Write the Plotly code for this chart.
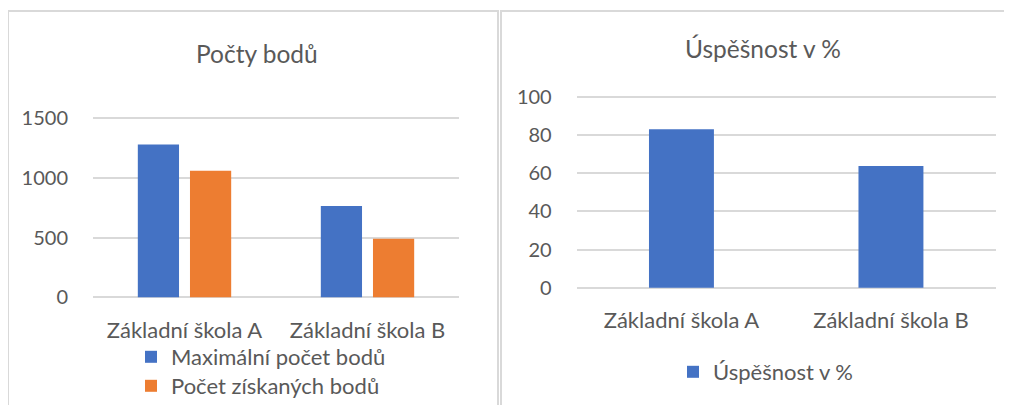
import plotly.graph_objects as go

categories = ["Základní škola A", "Základní škola B"]
max_points = [1280, 765]
earned_points = [1060, 490]
success_pct = [82.9, 63.7]

FONT = "Lato"
TXT = "#595959"
GRID = "#d9d9d9"
BLUE = "#4472C4"
ORANGE = "#ED7D31"
W, H = 1012, 405
OFF = 8  # page body margin

fig = go.Figure()
fig.add_trace(go.Bar(x=categories, y=max_points, name="Maximální počet bodů",
                     marker=dict(color=BLUE, line=dict(width=0)), xaxis="x", yaxis="y", legend="legend"))
fig.add_trace(go.Bar(x=categories, y=earned_points, name="Počet získaných bodů",
                     marker=dict(color=ORANGE, line=dict(width=0)), xaxis="x", yaxis="y", legend="legend3"))
fig.add_trace(go.Bar(x=categories, y=success_pct, name="Úspěšnost v %",
                     marker=dict(color=BLUE, line=dict(width=0)), xaxis="x2", yaxis="y2",
                     legend="legend2", width=0.31))

def px_x(p):
    return (p - OFF) / W

def px_y(p):
    return 1 - (p - OFF) / H

def ydom(px0, px_top, vmax, pad):
    k = (px0 - px_top) / vmax
    return [px_y(px0 + pad * k), px_y(px_top - pad * k)], [-pad, vmax + pad]

d1, r1 = ydom(297.3, 118.3, 1500, 10)
d2, r2 = ydom(287.7, 96.7, 100, 0.7)

ax_common = dict(showline=False, zeroline=False, automargin=False, tickcolor="rgba(0,0,0,0)",
                 ticks="outside")
xfont = dict(family=FONT, size=22, color=TXT)
yfont = dict(family=FONT, size=20, color=TXT)
lfont = dict(family=FONT, size=22, color=TXT)

fig.update_layout(
    width=W, height=H,
    margin=dict(l=0, r=0, t=0, b=0, autoexpand=False),
    paper_bgcolor="white", plot_bgcolor="white",
    barmode="group", bargap=0.43, bargroupgap=0.21,
    font=dict(family=FONT, color=TXT),
    xaxis=dict(domain=[px_x(93), px_x(459)], anchor="y", showgrid=False,
               ticklen=12, tickfont=xfont, **ax_common),
    yaxis=dict(domain=d1, anchor="x", range=r1,
               tickvals=[0, 500, 1000, 1500], showgrid=True, gridcolor=GRID, gridwidth=2,
               ticklen=20, tickfont=yfont, **ax_common),
    xaxis2=dict(domain=[px_x(576.7), px_x(995.7)], anchor="y2", showgrid=False,
                ticklen=12, tickfont=xfont, **ax_common),
    yaxis2=dict(domain=d2, anchor="x2", range=r2,
                tickvals=[0, 20, 40, 60, 80, 100], showgrid=True, gridcolor=GRID, gridwidth=2,
                ticklen=20, tickfont=yfont, **ax_common),
    legend=dict(x=px_x(131), y=px_y(357), xanchor="left", yanchor="middle", orientation="h",
                font=lfont, bgcolor="rgba(0,0,0,0)"),
    legend3=dict(x=px_x(131), y=px_y(386), xanchor="left", yanchor="middle", orientation="h",
                 font=lfont, bgcolor="rgba(0,0,0,0)"),
    legend2=dict(x=px_x(673), y=px_y(372), xanchor="left", yanchor="middle", orientation="h",
                 font=lfont, bgcolor="rgba(0,0,0,0)"),
    showlegend=True,
    annotations=[
        dict(text="Počty bodů", x=px_x(257), y=px_y(53), xref="paper", yref="paper",
             xanchor="center", yanchor="middle",
             showarrow=False, font=dict(family=FONT, size=24.5, color=TXT)),
        dict(text="Úspěšnost v %", x=px_x(763), y=px_y(48), xref="paper", yref="paper",
             xanchor="center", yanchor="middle",
             showarrow=False, font=dict(family=FONT, size=24.5, color=TXT)),
    ],
    shapes=[
        dict(type="rect", xref="paper", yref="paper", x0=px_x(8), x1=px_x(498),
             y0=px_y(430), y1=px_y(11), line=dict(color=GRID, width=2)),
        dict(type="rect", xref="paper", yref="paper", x0=px_x(501), x1=px_x(1040),
             y0=px_y(430), y1=px_y(11), line=dict(color=GRID, width=2)),
    ],
)

fig.write_html("out.html")
